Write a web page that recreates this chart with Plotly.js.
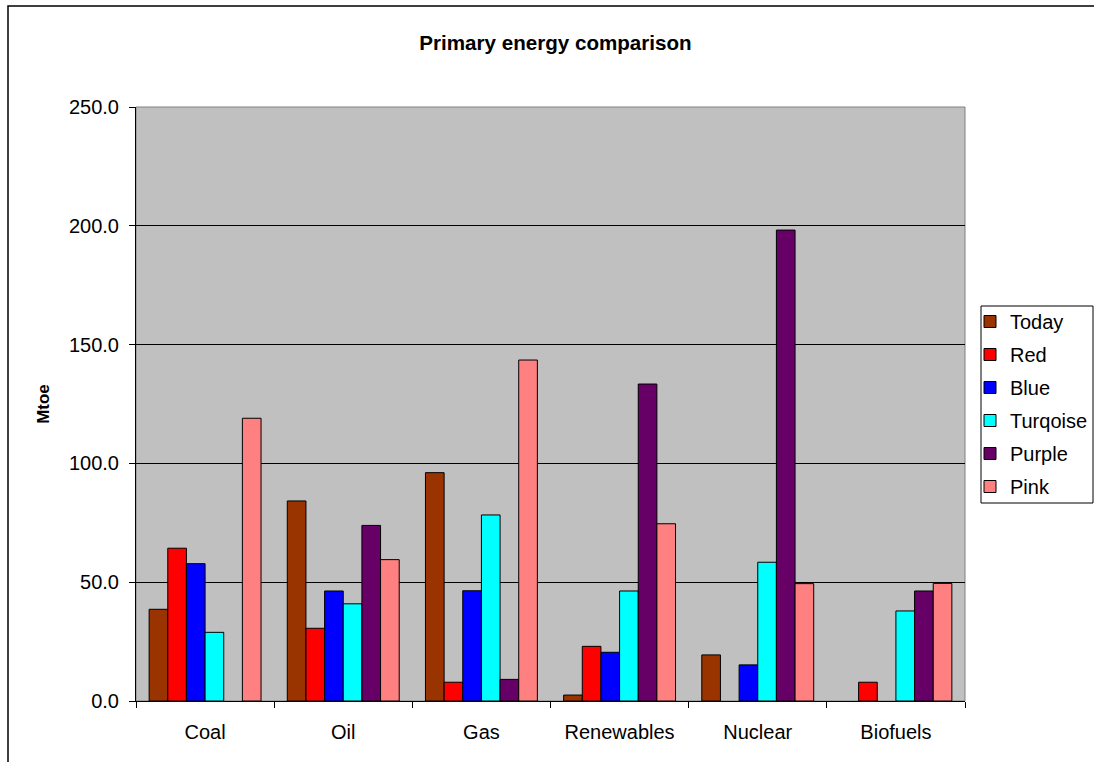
<!DOCTYPE html>
<html>
<head>
<meta charset="utf-8">
<script src="https://cdn.plot.ly/plotly-3.0.1.min.js"></script>
<style>html,body{margin:0;padding:0;background:#fff;}#chart{width:1094px;height:762px;}</style>
</head>
<body>
<div id="chart"></div>
<script>
const categories = ["Coal", "Oil", "Gas", "Renewables", "Nuclear", "Biofuels"];
const seriesNames = ["Today", "Red", "Blue", "Turqoise", "Purple", "Pink"];
const today    = [38.6, 84.2, 96.1, 2.5, 19.4, null];
const red      = [64.3, 30.6, 7.9, 23.0, null, 7.9];
const blue     = [57.8, 46.3, 46.4, 20.5, 15.2, null];
const turqoise = [28.9, 40.9, 78.3, 46.3, 58.4, 37.9];
const purple   = [null, 73.9, 9.1, 133.4, 198.2, 46.3];
const pink     = [119.0, 59.5, 143.5, 74.6, 49.4, 49.5];
const colors = ["#993300", "#FF0000", "#0000FF", "#00FFFF", "#660066", "#FF8080"];
const seriesValues = [today, red, blue, turqoise, purple, pink];

const font = "Liberation Sans, Arial, sans-serif";
const traces = seriesValues.map((vals, i) => ({
  type: "bar",
  name: seriesNames[i],
  legendgroup: "g" + i,
  x: categories,
  y: vals,
  marker: {color: colors[i], line: {color: "#000", width: 1}},
  hoverinfo: "x+y+name"
}));

const px2x = p => (p - 136) / 829;
const px2y = p => (701 - p) / 594;

const layout = {
  width: 1094, height: 762,
  margin: {l: 136, r: 129, t: 107, b: 61, autoexpand: false},
  paper_bgcolor: "#fff",
  plot_bgcolor: "#C0C0C0",
  barmode: "group",
  bargap: 0.19,
  bargroupgap: 0,
  font: {family: font, size: 20, color: "#000"},
  title: {text: "<b>Primary energy comparison</b>", font: {family: font, size: 20.6, color: "#000"},
          x: 0.506, xref: "paper", xanchor: "center", y: 1 - 43/762, yanchor: "middle"},
  xaxis: {
    type: "category",
    showline: true, linecolor: "#000", linewidth: 1,
    ticks: "outside", tickson: "boundaries", ticklen: 6, tickcolor: "#000",
    ticklabelstandoff: 13,
    showgrid: false, zeroline: false,
    tickfont: {family: font, size: 20, color: "#000"}
  },
  yaxis: {
    range: [0, 250], dtick: 50, tickformat: ".1f",
    showline: true, linecolor: "#000", linewidth: 1,
    ticks: "outside", ticklen: 6, tickcolor: "#000",
    ticklabelstandoff: 6,
    showgrid: true, gridcolor: "#000", gridwidth: 1,
    zeroline: false,
    tickfont: {family: font, size: 20, color: "#000"},
    title: {text: "<b>Mtoe</b>", font: {family: font, size: 17, color: "#000"}, standoff: 14}
  },
  legend: {
    x: px2x(970), xanchor: "left",
    y: px2y(302), yanchor: "top",
    bgcolor: "rgba(0,0,0,0)", borderwidth: 0,
    font: {family: font, size: 20, color: "#000"},
    traceorder: "grouped",
    tracegroupgap: 4
  },
  shapes: [
    {type: "rect", xref: "paper", yref: "paper", x0: 0, x1: 1, y0: 0, y1: 1,
     line: {color: "#808080", width: 1}, layer: "below"},
    {type: "rect", xref: "paper", yref: "paper", x0: px2x(981), x1: px2x(1093), y0: px2y(503), y1: px2y(306),
     line: {color: "#000", width: 1}, fillcolor: "#fff"},
    {type: "rect", xref: "paper", yref: "paper", x0: px2x(8), x1: 1.5, y0: -0.3, y1: px2y(6),
     line: {color: "#000", width: 1.5}, fillcolor: "rgba(0,0,0,0)"}
  ],
  showlegend: true
};

Plotly.newPlot("chart", traces, layout, {displayModeBar: false, staticPlot: true});
</script>
</body>
</html>
